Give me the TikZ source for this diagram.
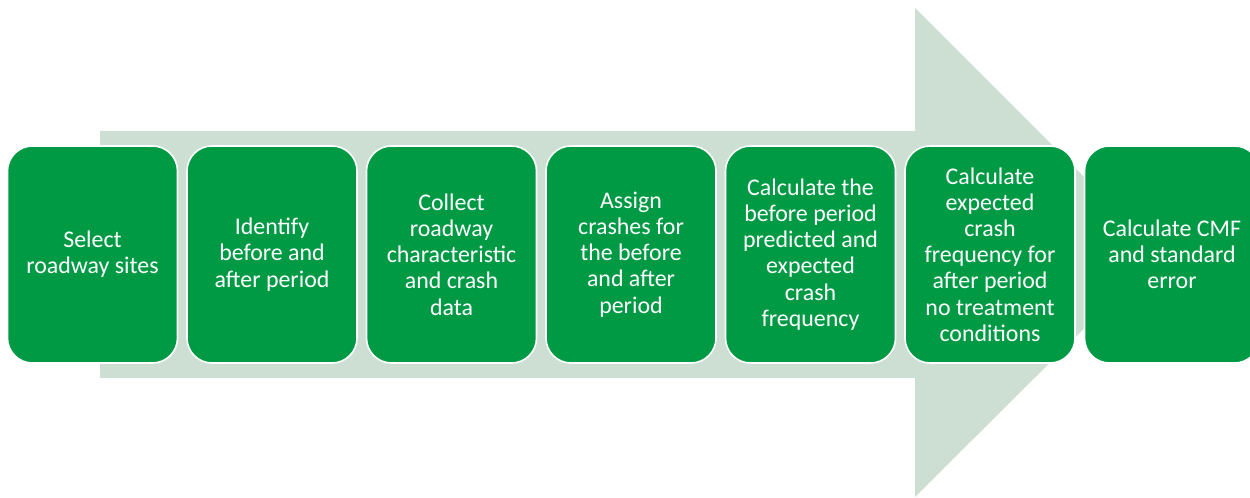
\documentclass[tikz,border=0pt]{standalone}
\usepackage{fontspec}
\setmainfont{Carlito}
\usetikzlibrary{positioning}
\definecolor{boxgreen}{RGB}{0,154,69}
\definecolor{arrowgreen}{RGB}{204,223,210}

\begin{document}
\begin{tikzpicture}[
    stepbox/.style={draw=white, line width=0.9pt, fill=boxgreen, text=white,
      rounded corners=0.5cm, minimum width=3.4cm, minimum height=4.34cm,
      align=center, inner sep=2pt, outer sep=0pt,
      font=\fontsize{13.6}{14.9}\selectfont},
    node distance=0.19cm
  ]
  %tikz  background arrow
    \useasboundingbox (0,0) rectangle (25,9.96);
    \fill[arrowgreen] (2,2.4) -- (2,7.34) -- (18.3,7.34) -- (18.3,9.8)
      -- (23.2,4.9) -- (18.3,0.02) -- (18.3,2.4) -- cycle;
  %tikz  steps
    \begin{scope}
    \clip (0,0) rectangle (25,9.96);
    \node[stepbox] (select) at (1.85,4.87) {Select\\roadway sites};
    \node[stepbox, right=of select] (identify) {Identify\\before and\\after period};
    \node[stepbox, right=of identify] (collect) {Collect\\roadway\\characteristic\\and crash\\data};
    \node[stepbox, right=of collect] (assign) {Assign\\crashes for\\the before\\and after\\period};
    \node[stepbox, right=of assign] (before) {Calculate the\\before period\\predicted and\\expected\\crash\\frequency};
    \node[stepbox, right=of before] (after) {Calculate\\expected\\crash\\frequency for\\after period\\no treatment\\conditions};
    \node[stepbox, right=of after, minimum width=3.5cm] (cmf) {Calculate CMF\\and standard\\error};
    \end{scope}
\end{tikzpicture}
\end{document}
